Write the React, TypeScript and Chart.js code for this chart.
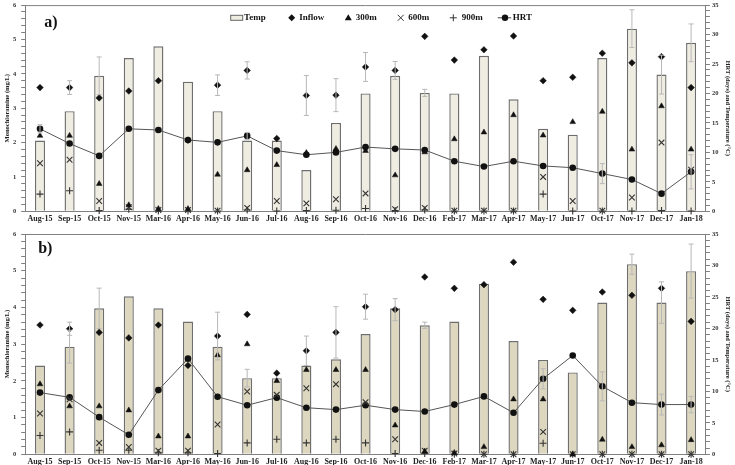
import React, { useEffect, useRef } from "react";
import { Chart, registerables } from "chart.js";

Chart.register(...registerables);

const SERIF = '"Liberation Serif", "Times New Roman", serif';

const categories = [
  "Aug-15", "Sep-15", "Oct-15", "Nov-15", "Mar-16", "Apr-16", "May-16", "Jun-16",
  "Jul-16", "Aug-16", "Sep-16", "Oct-16", "Nov-16", "Dec-16", "Feb-17", "Mar-17",
  "Apr-17", "May-17", "Jun-17", "Oct-17", "Nov-17", "Dec-17", "Jan-18",
];

// ---------- panel a ----------
const tempA = [12, 17, 23, 26, 28, 22, 17, 12, 12, 7, 15, 20, 23, 20.1, 20, 26.4, 19, 14, 13, 26, 31, 23.2, 28.6];
const inflowA = [3.6, 3.6, 3.3, 3.5, 3.8, 2.07, 3.67, 4.1, 2.12, 3.37, 3.38, 4.2, 4.1, 5.09, 4.4, 4.7, 5.1, 3.8, 3.9, 4.6, 4.32, 4.5, 3.6];
const m300A = [2.2, 2.2, 0.8, 0.18, 0.07, 0.07, 1.07, 1.2, 1.35, 1.7, 1.82, 1.76, 1.05, 1.72, 2.1, 2.3, 2.8, 2.21, 2.6, 2.9, 1.8, 3.06, 1.8];
const m600A = [1.4, 1.5, 0.3, 0.12, 0.04, 0.04, 0.02, 0.1, 0.3, 0.23, 0.35, 0.52, 0.06, 0.1, 0.02, 0.02, 0.02, 1.0, 0.3, 0.02, 0.4, 2.0, 1.21];
const m900A = [0.5, 0.6, 0.02, 0.06, 0.01, 0.01, 0.01, 0.04, 0.01, 0.02, 0.03, 0.08, 0.02, 0.04, 0.01, 0.01, 0.01, 0.5, 0.01, 0.01, 0.01, 0.02, 0.01];
const hrtA = [14.0, 11.5, 9.4, 14.0, 13.8, 12.1, 11.7, 12.8, 10.3, 9.6, 10.0, 10.9, 10.6, 10.4, 8.5, 7.6, 8.5, 7.7, 7.4, 6.4, 5.4, 3.0, 6.7];
const tempErrA = [null, null, 3.2, null, null, null, null, null, null, null, null, null, null, 0.6, null, null, null, null, null, null, 3.2, 3.3, 3.2];
const inflowErrA = [null, 0.2, null, null, null, null, 0.3, 0.25, null, 0.58, 0.48, 0.42, 0.26, null, null, null, null, null, null, null, null, null, null];
const hrtErrA = [0.7, null, null, null, null, null, null, 0.6, null, null, null, null, null, null, null, null, null, null, null, 1.7, null, null, 2.9];

// ---------- panel b ----------
const tempB = [14.1, 17.1, 23.2, 25.1, 23.2, 21.1, 17.1, 12.1, 12.1, 14.1, 15.1, 19.1, 23.2, 20.5, 21.1, 27.1, 18.0, 15.0, 13.0, 24.1, 30.2, 24.1, 29.1];
const inflowB = [3.52, 3.42, 3.32, 3.17, 3.52, 2.42, 3.22, 3.81, 2.21, 2.82, 3.32, 4.02, 3.94, 4.83, 4.52, 4.62, 5.23, 4.22, 3.92, 4.42, 4.33, 4.52, 3.62];
const m300B = [1.91, 1.31, 1.31, 1.2, 0.49, 0.49, 2.7, 3.0, 2.0, 2.3, 2.3, 2.3, 0.79, 0.08, 0.04, 0.2, 1.5, 1.5, 0.0, 0.4, 0.2, 0.25, 0.39];
const m600B = [1.11, 1.5, 0.31, 0.2, 0.1, 0.1, 0.81, 1.71, 1.62, 1.8, 1.91, 1.42, 0.41, 0.1, 0.02, 0.0, 0.0, 0.61, 0.0, 0.0, 0.0, 0.0, 0.0];
const m900B = [0.51, 0.61, 0.11, 0.11, 0.04, 0.04, 0.02, 0.31, 0.41, 0.31, 0.41, 0.31, 0.02, 0.02, 0.0, 0.0, 0.0, 0.3, 0.0, 0.0, 0.0, 0.0, 0.0];
const hrtB = [9.8, 9.05, 5.9, 3.1, 10.2, 15.2, 9.15, 7.8, 9.0, 7.4, 7.1, 7.8, 7.1, 6.8, 7.9, 9.2, 6.6, 12.0, 15.7, 10.8, 8.2, 7.9, 7.9];
const tempErrB = [null, 2.6, 3.2, null, null, null, null, 1.4, null, null, null, null, null, 0.5, null, null, null, null, null, null, 1.6, 3.3, 4.3];
const inflowErrB = [null, 0.18, null, null, null, null, 0.65, null, null, 0.4, 0.7, 0.34, 0.3, null, null, null, null, null, null, null, null, null, null];
const hrtErrB = [null, null, null, null, null, null, null, null, null, null, null, null, null, null, null, null, null, 1.6, null, 2.3, null, 1.65, 1.3];

// ---------- axes ----------
const leftMajorTicks = [0, 1, 2, 3, 4, 5, 6];
const rightMajorTicks = [0, 5, 10, 15, 20, 25, 30, 35];
const MINOR_DIV = 5;
const leftTitle = "Monochloramine (mg/L)";
const rightTitle = "HRT (days) and Temperature (°C)";
const legendLabels = ["Temp", "Inflow", "300m", "600m", "900m", "HRT"];

function withMinor(major: number[]) {
  const out: number[] = [];
  for (let i = 0; i < major.length - 1; i++) {
    const step = (major[i + 1] - major[i]) / MINOR_DIV;
    for (let k = 0; k < MINOR_DIV; k++) out.push(major[i] + step * k);
  }
  out.push(major[major.length - 1]);
  return out;
}
function isMajor(v: number, major: number[]) {
  return major.some((m) => Math.abs(m - v) < 1e-6);
}

const AXIS = "#808080";

const errPlugin = {
  id: "errbars",
  afterDatasetsDraw(chart: any, _a: any, opts: any) {
    if (!opts || !opts.sets) return;
    const ctx = chart.ctx;
    ctx.save();
    ctx.strokeStyle = "#b8b8b8";
    ctx.lineWidth = 1;
    for (const s of opts.sets) {
      const meta = chart.getDatasetMeta(s.dataset);
      const ds = chart.data.datasets[s.dataset];
      const scale = chart.scales[ds.yAxisID];
      s.errors.forEach((e: number | null, i: number) => {
        if (e == null) return;
        const v = ds.data[i];
        const x = meta.data[i].x;
        const yTop = scale.getPixelForValue(v + e);
        const yBot = scale.getPixelForValue(Math.max(0, v - e));
        ctx.beginPath();
        ctx.moveTo(x, yTop);
        ctx.lineTo(x, yBot);
        ctx.moveTo(x - 2.5, yTop);
        ctx.lineTo(x + 2.5, yTop);
        ctx.moveTo(x - 2.5, yBot);
        ctx.lineTo(x + 2.5, yBot);
        ctx.stroke();
      });
    }
    ctx.restore();
  },
};

const framePlugin = {
  id: "frame",
  afterDraw(chart: any, _a: any, opts: any) {
    const { ctx, chartArea: ca } = chart;
    ctx.save();
    ctx.strokeStyle = AXIS;
    ctx.lineWidth = 1;
    ctx.beginPath();
    ctx.moveTo(ca.left, ca.top + 0.5);
    ctx.lineTo(ca.right, ca.top + 0.5);
    ctx.stroke();
    if (opts && opts.tag) {
      ctx.fillStyle = "#111";
      ctx.font = `bold 16px ${SERIF}`;
      ctx.textBaseline = "alphabetic";
      ctx.fillText(opts.tag, ca.left + opts.tagX, ca.top + opts.tagY);
    }
    ctx.restore();
  },
};

function drawMarker(ctx: CanvasRenderingContext2D, kind: string, x: number, y: number) {
  ctx.beginPath();
  if (kind === "diamond") {
    ctx.moveTo(x, y - 3.5);
    ctx.lineTo(x + 3.5, y);
    ctx.lineTo(x, y + 3.5);
    ctx.lineTo(x - 3.5, y);
    ctx.closePath();
    ctx.fill();
  } else if (kind === "triangle") {
    ctx.moveTo(x, y - 3.5);
    ctx.lineTo(x + 3.5, y + 2.5);
    ctx.lineTo(x - 3.5, y + 2.5);
    ctx.closePath();
    ctx.fill();
  } else if (kind === "x") {
    ctx.moveTo(x - 3, y - 3);
    ctx.lineTo(x + 3, y + 3);
    ctx.moveTo(x + 3, y - 3);
    ctx.lineTo(x - 3, y + 3);
    ctx.stroke();
  } else if (kind === "plus") {
    ctx.moveTo(x - 3.5, y);
    ctx.lineTo(x + 3.5, y);
    ctx.moveTo(x, y - 3.5);
    ctx.lineTo(x, y + 3.5);
    ctx.stroke();
  } else if (kind === "circle") {
    ctx.arc(x, y, 3.2, 0, Math.PI * 2);
    ctx.fill();
  }
}

const legendPlugin = {
  id: "customLegend",
  afterDraw(chart: any, _a: any, opts: any) {
    if (!opts || !opts.show) return;
    const { ctx, chartArea: ca } = chart;
    const L = ca.left;
    const y = ca.top + 12.7;
    ctx.save();
    ctx.font = `bold 9px ${SERIF}`;
    ctx.textBaseline = "middle";
    ctx.textAlign = "left";
    ctx.fillStyle = "#111";
    ctx.strokeStyle = "#111";
    ctx.lineWidth = 1.2;
    // Temp swatch
    ctx.fillStyle = opts.barFill;
    ctx.fillRect(L + 205.5, y - 2.5, 12, 5);
    ctx.strokeStyle = "#666";
    ctx.lineWidth = 1;
    ctx.strokeRect(L + 205.5, y - 2.5, 12, 5);
    ctx.fillStyle = "#111";
    ctx.strokeStyle = "#111";
    ctx.fillText(legendLabels[0], L + 218.8, y);
    drawMarker(ctx, "diamond", L + 266.5, y);
    ctx.fillText(legendLabels[1], L + 274.1, y);
    drawMarker(ctx, "triangle", L + 323.1, y);
    ctx.fillText(legendLabels[2], L + 330.5, y);
    ctx.lineWidth = 1;
    ctx.strokeStyle = "#333";
    drawMarker(ctx, "x", L + 375.5, y);
    ctx.fillText(legendLabels[3], L + 383.1, y);
    drawMarker(ctx, "plus", L + 428.1, y);
    ctx.fillText(legendLabels[4], L + 436.5, y);
    ctx.strokeStyle = "#444";
    ctx.beginPath();
    ctx.moveTo(L + 472.5, y);
    ctx.lineTo(L + 486, y);
    ctx.stroke();
    drawMarker(ctx, "circle", L + 479.8, y);
    ctx.fillText(legendLabels[5], L + 487.5, y);
    ctx.restore();
  },
};

type PanelProps = {
  tag: string;
  tagX: number;
  tagY: number;
  temp: number[];
  inflow: number[];
  m300: number[];
  m600: number[];
  m900: number[];
  hrt: number[];
  tempErr: (number | null)[];
  inflowErr: (number | null)[];
  hrtErr: (number | null)[];
  barFill: string;
  canvasHeight: number;
  plotTop: number;
  xAxisHeight: number;
  showLegend: boolean;
};

function Panel(p: PanelProps) {
  const ref = useRef<HTMLCanvasElement | null>(null);

  useEffect(() => {
    if (!ref.current) return;
    const tickFont = { family: SERIF, weight: "bold" as const, size: 6.5 };
    const titleFont = { family: SERIF, weight: "bold" as const, size: 6.5 };
    const pointBase = {
      type: "line" as const,
      showLine: false,
      yAxisID: "y",
      clip: false as any,
      order: 1,
    };
    const chart = new Chart(ref.current, {
      type: "bar",
      data: {
        labels: categories,
        datasets: [
          {
            type: "bar",
            label: "Temp",
            data: p.temp,
            yAxisID: "y1",
            backgroundColor: p.barFill,
            borderColor: "#6e6e6e",
            borderWidth: 1.4,
            barPercentage: 0.34,
            categoryPercentage: 1,
            order: 10,
          } as any,
          {
            ...pointBase,
            label: "HRT",
            data: p.hrt,
            yAxisID: "y1",
            showLine: true,
            borderColor: "#555",
            borderWidth: 1,
            tension: 0,
            pointStyle: "circle",
            pointRadius: 3.3,
            pointBackgroundColor: "#111",
            pointBorderColor: "#111",
            pointBorderWidth: 0,
            order: 5,
          } as any,
          {
            ...pointBase,
            label: "Inflow",
            data: p.inflow,
            pointStyle: "rectRot",
            pointRadius: 3.3,
            pointBackgroundColor: "#111",
            pointBorderColor: "#111",
            pointBorderWidth: 0.5,
          } as any,
          {
            ...pointBase,
            label: "300m",
            data: p.m300,
            pointStyle: "triangle",
            pointRadius: 3.3,
            pointBackgroundColor: "#111",
            pointBorderColor: "#111",
            pointBorderWidth: 0.5,
          } as any,
          {
            ...pointBase,
            label: "600m",
            data: p.m600,
            pointStyle: "crossRot",
            pointRadius: 4,
            pointBackgroundColor: "#333",
            pointBorderColor: "#333",
            pointBorderWidth: 1.1,
          } as any,
          {
            ...pointBase,
            label: "900m",
            data: p.m900,
            pointStyle: "cross",
            pointRadius: 3.5,
            pointBackgroundColor: "#333",
            pointBorderColor: "#333",
            pointBorderWidth: 1.1,
          } as any,
        ],
      },
      options: {
        responsive: false,
        animation: false,
        events: [],
        layout: { padding: { top: p.plotTop, left: 0, right: 0, bottom: 0 } },
        plugins: {
          legend: { display: false },
          tooltip: { enabled: false },
          errbars: {
            sets: [
              { dataset: 0, errors: p.tempErr },
              { dataset: 2, errors: p.inflowErr },
              { dataset: 1, errors: p.hrtErr },
            ],
          },
          frame: { tag: p.tag, tagX: p.tagX, tagY: p.tagY },
          customLegend: { show: p.showLegend, barFill: p.barFill },
        } as any,
        scales: {
          x: {
            type: "category",
            offset: true,
            grid: { display: false, drawTicks: false },
            border: { display: true, color: AXIS, width: 1 },
            ticks: {
              font: { family: SERIF, weight: "bold", size: 8 },
              color: "#222",
              maxRotation: 0,
              minRotation: 0,
              autoSkip: false,
              padding: 3,
            },
            afterFit: (s: any) => {
              s.height = p.xAxisHeight;
              s.paddingLeft = 0;
              s.paddingRight = 0;
            },
          },
          y: {
            type: "linear",
            position: "left",
            min: 0,
            max: 6,
            afterBuildTicks: (s: any) => {
              s.ticks = withMinor(leftMajorTicks).map((v) => ({ value: v }));
            },
            ticks: {
              autoSkip: false,
              font: tickFont,
              color: "#333",
              padding: 5,
              callback: (v: any) => (isMajor(Number(v), leftMajorTicks) ? String(Math.round(Number(v))) : ""),
            },
            grid: { drawOnChartArea: false, tickLength: 4, color: AXIS },
            border: { display: true, color: AXIS, width: 1 },
            title: { display: true, text: leftTitle, font: titleFont, color: "#222", padding: { top: 3, bottom: 0 } },
            afterFit: (s: any) => {
              s.width = 25.2;
              s.paddingTop = 0;
              s.paddingBottom = 0;
            },
          },
          y1: {
            type: "linear",
            position: "right",
            min: 0,
            max: 35,
            afterBuildTicks: (s: any) => {
              s.ticks = withMinor(rightMajorTicks).map((v) => ({ value: v }));
            },
            ticks: {
              autoSkip: false,
              font: tickFont,
              color: "#333",
              padding: 2,
              callback: (v: any) => (isMajor(Number(v), rightMajorTicks) ? String(Math.round(Number(v))) : ""),
            },
            grid: { drawOnChartArea: false, tickLength: 4, color: AXIS },
            border: { display: true, color: AXIS, width: 1 },
            title: { display: true, text: rightTitle, font: titleFont, color: "#222", padding: { top: 3, bottom: 0 } },
            afterFit: (s: any) => {
              s.width = 29.1;
              s.paddingTop = 0;
              s.paddingBottom = 0;
            },
          },
        },
      } as any,
      plugins: [errPlugin, framePlugin, legendPlugin],
    });
    return () => chart.destroy();
  }, []);

  return (
    <canvas
      ref={ref}
      width={735}
      height={p.canvasHeight}
      style={{ display: "block", width: 735, height: p.canvasHeight }}
    />
  );
}

export default function App() {
  return (
    <div style={{ position: "fixed", left: 0, top: 0, width: 735, height: 465, background: "#fff" }}>
      <Panel
        tag="a)"
        tagX={19}
        tagY={22}
        temp={tempA}
        inflow={inflowA}
        m300={m300A}
        m600={m600A}
        m900={m900A}
        hrt={hrtA}
        tempErr={tempErrA}
        inflowErr={inflowErrA}
        hrtErr={hrtErrA}
        barFill="#efede2"
        canvasHeight={228}
        plotTop={3.3}
        xAxisHeight={16.7}
        showLegend={true}
      />
      <Panel
        tag="b)"
        tagX={13}
        tagY={19}
        temp={tempB}
        inflow={inflowB}
        m300={m300B}
        m600={m600B}
        m900={m900B}
        hrt={hrtB}
        tempErr={tempErrB}
        inflowErr={inflowErrB}
        hrtErr={hrtErrB}
        barFill="#ddd7bf"
        canvasHeight={237}
        plotTop={6}
        xAxisHeight={10.7}
        showLegend={false}
      />
    </div>
  );
}
